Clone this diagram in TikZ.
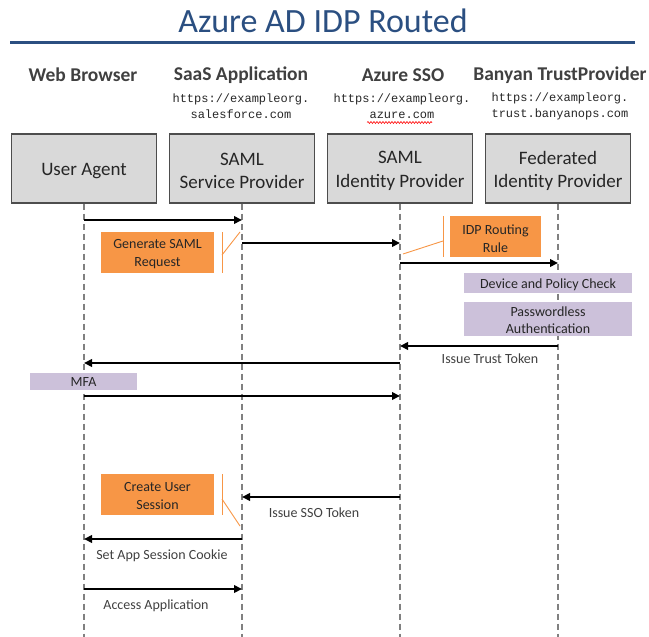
\documentclass[tikz,border=0pt]{standalone}
\usepackage{fontspec}
\setmainfont{Carlito}
\setmonofont{Liberation Mono}
\usetikzlibrary{arrows.meta,decorations.pathmorphing}
\definecolor{titleblue}{HTML}{2B4F81}
\definecolor{txtgrey}{HTML}{404040}
\definecolor{darktxt}{HTML}{262626}
\definecolor{boxfill}{HTML}{D9D9D9}
\definecolor{boxline}{HTML}{4D4D4D}
\definecolor{orangebox}{HTML}{F79646}
\definecolor{purplebox}{HTML}{CCC1DA}
\definecolor{lifegrey}{HTML}{808080}
\tikzset{
  titletxt/.style={text=titleblue, font=\fontsize{34}{40}\selectfont, inner sep=0pt},
  titlerule/.style={draw=titleblue, line width=3pt},
  hdr/.style={text=txtgrey, font=\fontsize{19.5}{23}\selectfont\bfseries, inner sep=0pt},
  urltxt/.style={text=darktxt, font=\fontsize{12}{16}\selectfont\ttfamily, align=center, inner sep=0pt},
  partbox/.style={draw=boxline, line width=1.2pt, fill=boxfill, minimum width=145pt, minimum height=69pt, inner sep=0pt},
  parttxt/.style={text=darktxt, font=\fontsize{19}{23.5}\selectfont, align=center, inner sep=0pt},
  lifeline/.style={draw=lifegrey, line width=1.4pt, dash pattern=on 6pt off 4pt},
  obox/.style={fill=orangebox, minimum width=113pt, minimum height=41pt, inner sep=0pt},
  otxt/.style={text=darktxt, font=\fontsize{14}{18}\selectfont, align=center, inner sep=0pt},
  pbox/.style={fill=purplebox, inner sep=0pt},
  ptxt/.style={text=darktxt, font=\fontsize{14}{17}\selectfont, align=center, inner sep=0pt},
  callout/.style={draw=orangebox, line width=0.9pt},
  msg/.style={draw=black, line width=2pt, -{Triangle[length=8pt,width=7.5pt]}},
  lbl/.style={text=txtgrey, font=\fontsize{14}{17}\selectfont, inner sep=0pt},
}
\begin{document}
\begin{tikzpicture}[x=1pt,y=-1pt]
\useasboundingbox (0,0) rectangle (649,637);
% title
\node[titletxt] (title) at (323,21) {Azure AD IDP Routed};
\coordinate (ruleL) at (10,42);
\coordinate (ruleR) at (635,42);
\draw[titlerule] (ruleL) -- (ruleR);
% headers
\node[hdr] (h1) at (83,75) {Web Browser};
\node[hdr] (h2) at (241,75) {SaaS Application};
\node[hdr] (h3) at (403,75) {Azure SSO};
\node[hdr] (h4) at (560,75) {Banyan TrustProvider};
\node[urltxt] (u2) at (241,106) {https://exampleorg.\\salesforce.com};
\node[urltxt] (u3) at (402,106) {https://exampleorg.\\azure.com};
\node[urltxt] (u4) at (560,106) {https://exampleorg.\\trust.banyanops.com};
\coordinate (sqL) at (367,122.5);
\coordinate (sqR) at (432,122.5);
\draw[red, line width=0.6pt, decorate, decoration={snake, amplitude=1pt, segment length=3pt}] (sqL) -- (sqR);
% participants
\node[partbox] (ua) at (84,168.5) {};
\node[partbox] (sp) at (242,168.5) {};
\node[partbox] (idp) at (400,168.5) {};
\node[partbox] (fed) at (558,168.5) {};
% lifeline ends
\coordinate (uaE) at (84,640);
\coordinate (spE) at (242,640);
\coordinate (idpE) at (400,640);
\coordinate (fedE) at (558,640);
\draw[lifeline] (ua.south) -- (uaE);
\draw[lifeline] (sp.south) -- (spE);
\draw[lifeline] (idp.south) -- (idpE);
\draw[lifeline] (fed.south) -- (fedE);
\node[parttxt] (uaT) at ([yshift=-3pt]ua.center) {User Agent};
\node[parttxt] (spT) at ([yshift=-2.5pt]sp.center) {SAML\\Service Provider};
\node[parttxt] (idpT) at ([yshift=-2.5pt]idp.center) {SAML\\Identity Provider};
\node[parttxt] (fedT) at ([yshift=-2.5pt]fed.center) {Federated\\Identity Provider};
% message points
\coordinate (a1) at (84,220);  \coordinate (b1) at (242,220);
\coordinate (a2) at (242,243); \coordinate (b2) at (400,243);
\coordinate (a3) at (400,263); \coordinate (b3) at (558,263);
\coordinate (a4) at (558,346); \coordinate (b4) at (400,346);
\coordinate (a5) at (400,363); \coordinate (b5) at (84,363);
\coordinate (a6) at (84,396);  \coordinate (b6) at (400,396);
\coordinate (a7) at (400,497); \coordinate (b7) at (242,497);
\coordinate (a8) at (242,539); \coordinate (b8) at (84,539);
\coordinate (a9) at (84,589);  \coordinate (b9) at (242,589);
% annotation boxes
\node[obox] (gen) at (157.5,252) {};
\node[otxt] (genT) at ([yshift=-2pt]gen.center) {Generate SAML\\Request};
\node[obox, minimum width=91pt] (rule) at (495.5,236.5) {};
\node[otxt] (ruleT) at ([yshift=-2pt]rule.center) {IDP Routing\\Rule};
\node[pbox, minimum width=168pt, minimum height=20pt] (dev) at (548,283) {};
\node[ptxt] (devT) at ([yshift=-2pt]dev.center) {Device and Policy Check};
\node[pbox, minimum width=168pt, minimum height=34pt] (pwl) at (548,319) {};
\node[ptxt] (pwlT) at ([yshift=-1.5pt]pwl.center) {Passwordless\\Authentication};
\node[pbox, minimum width=107pt, minimum height=17pt] (mfa) at (83.5,381.5) {};
\node[ptxt] (mfaT) at ([yshift=-1pt]mfa.center) {MFA};
\node[obox] (sess) at (157.5,494.5) {};
\node[otxt] (sessT) at ([yshift=-2pt]sess.center) {Create User\\Session};
% callouts
\coordinate (gcT) at (222,232); \coordinate (gcB) at (222,273);
\coordinate (gcM) at (222,255); \coordinate (gcP) at (240,232);
\draw[callout] (gcT) -- (gcB);
\draw[callout] (gcM) -- (gcP);
\coordinate (rcT) at (443,216); \coordinate (rcB) at (443,257);
\coordinate (rcM) at (443,241); \coordinate (rcP) at (403,254);
\draw[callout] (rcT) -- (rcB);
\draw[callout] (rcM) -- (rcP);
\coordinate (scT) at (222,474); \coordinate (scB) at (222,515);
\coordinate (scM) at (222,499); \coordinate (scP) at (240,526);
\draw[callout] (scT) -- (scB);
\draw[callout] (scM) -- (scP);
% messages
\draw[msg] (a1) -- (b1);
\draw[msg] (a2) -- (b2);
\draw[msg] (a3) -- (b3);
\draw[msg] (a4) -- (b4);
\draw[msg] (a5) -- (b5);
\draw[msg] (a6) -- (b6);
\draw[msg] (a7) -- (b7);
\draw[msg] (a8) -- (b8);
\draw[msg] (a9) -- (b9);
% labels
\node[lbl] (l4) at (490,359) {Issue Trust Token};
\node[lbl] (l7) at (314,512.5) {Issue SSO Token};
\node[lbl] (l8) at (162,556) {Set App Session Cookie};
\node[lbl] (l9) at (156,605.5) {Access Application};
\end{tikzpicture}
\end{document}
